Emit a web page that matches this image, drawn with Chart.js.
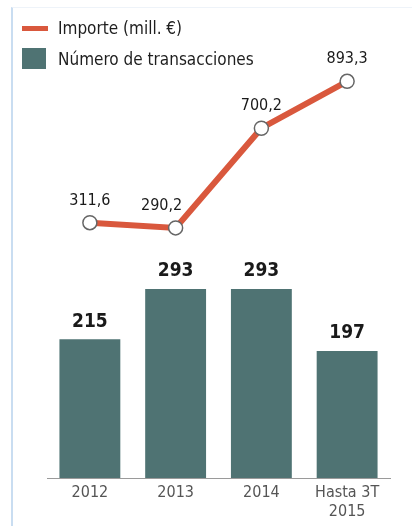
<!DOCTYPE html>
<html lang="es">
<head>
    <meta charset="UTF-8">
    <title>Importe y número de transacciones</title>
    <script src="https://cdn.jsdelivr.net/npm/chart.js"></script>
    <style>
        html, body { margin: 0; padding: 0; background: #fff; }
        #marco {
            position: relative; width: 412px; height: 526px; overflow: hidden;
        }
        #borde {
            position: absolute; left: 11px; top: 7px; right: 0; bottom: 0;
            border-left: 2px solid #c9ddf1; border-top: 1px solid #eef3f9;
        }
        #grafica { position: absolute; left: 0; top: 0; }
        .leyenda {
            position: absolute; left: 22px; font-family: "Liberation Sans Narrow", "DejaVu Sans Condensed", sans-serif;
            font-size: 17px; color: #1e1e1e; display: flex; align-items: center;
        }
        .leyenda span.marca { display: inline-block; margin-right: 10px; }
    </style>
</head>
<body>
<div id="marco">
    <div id="borde"></div>
    <canvas id="grafica" width="412" height="526"></canvas>
    <div class="leyenda" style="top:18px;"><span class="marca" style="width:26px;height:5px;background:#d9583d;"></span>Importe (mill. €)</div>
    <div class="leyenda" style="top:48px;"><span class="marca" style="width:24px;height:21px;background:#4f7373;margin-right:12px;"></span>Número de transacciones</div>
</div>
<script>
    var categorias = [['2012'], ['2013'], ['2014'], ['Hasta 3T', '2015']];
    var importe = [311.6, 290.2, 700.2, 893.3];
    var transacciones = [215, 293, 293, 197];

    var fuente = '"Liberation Sans Narrow", "DejaVu Sans Condensed", sans-serif';

    function formatoEs(v) {
        return v.toFixed(1).replace('.', ',');
    }

    // etiquetas de valores sobre barras y puntos
    var etiquetas = {
        id: 'etiquetas',
        afterDatasetsDraw: function(chart) {
            var ctx = chart.ctx;
            ctx.save();
            ctx.textAlign = 'center';
            ctx.textBaseline = 'bottom';
            ctx.fillStyle = '#1a1a1a';
            chart.getDatasetMeta(1).data.forEach(function(bar, i) {
                ctx.font = 'bold 19px ' + fuente;
                ctx.fillText(String(transacciones[i]), bar.x, bar.y - 8);
            });
            chart.getDatasetMeta(0).data.forEach(function(pt, i) {
                ctx.font = '16px ' + fuente;
                var dx = i === 1 ? -14 : 0;
                ctx.fillText(formatoEs(importe[i]), pt.x + dx, pt.y - 14);
            });
            ctx.restore();
        }
    };

    var ctx = document.getElementById('grafica').getContext('2d');
    var grafica = new Chart(ctx, {
        data: {
            labels: categorias,
            datasets: [{
                type: 'line',
                label: 'Importe (mill. €)',
                data: importe,
                yAxisID: 'y2',
                borderColor: '#d9583d',
                borderWidth: 6,
                pointRadius: 7,
                pointBackgroundColor: '#ffffff',
                pointBorderColor: '#666666',
                pointBorderWidth: 1.5,
                tension: 0,
                order: 0
            }, {
                type: 'bar',
                label: 'Número de transacciones',
                data: transacciones,
                yAxisID: 'y',
                backgroundColor: '#4f7373',
                categoryPercentage: 1,
                barPercentage: 0.71,
                order: 1
            }]
        },
        options: {
            responsive: false,
            animation: false,
            layout: { padding: { left: 47, right: 22, top: 60, bottom: 0 } },
            plugins: {
                legend: { display: false },
                tooltip: { enabled: false }
            },
            scales: {
                x: {
                    grid: { display: false, drawTicks: false },
                    border: { display: true, color: '#9a9a9a', width: 1 },
                    ticks: {
                        color: '#555',
                        padding: 5,
                        font: { family: fuente, size: 16 }
                    },
                    afterFit: function(scale) { scale.height = 48; }
                },
                y: {
                    display: false,
                    min: 0,
                    max: 648
                },
                y2: {
                    display: false,
                    min: -739,
                    max: 981
                }
            }
        },
        plugins: [etiquetas]
    });
</script>
</body>
</html>
